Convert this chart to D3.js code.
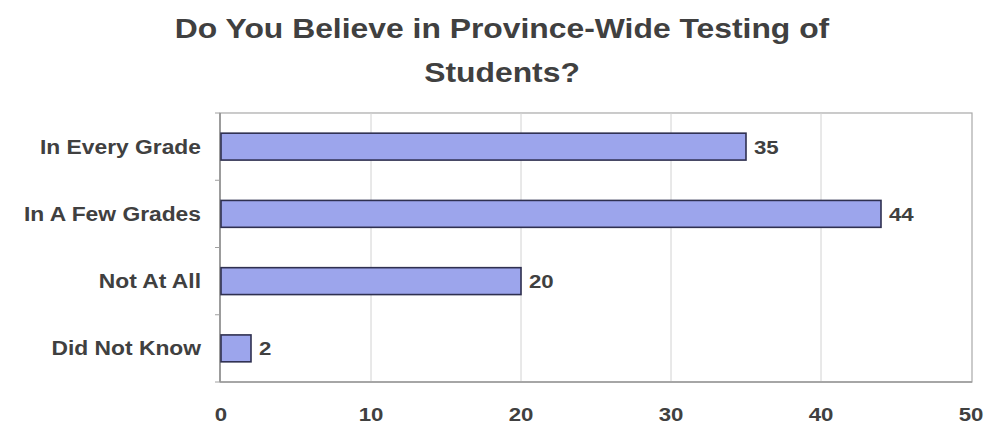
<!DOCTYPE html>
<html>
<meta charset="utf-8">
<head>
<style>
  body { margin: 0; background: #fff; }
  svg text { font-family: "Liberation Sans", Arial, sans-serif; font-weight: bold; fill: #404040; }
</style>
</head>
<body>
<script src="https://d3js.org/d3.v7.min.js"></script>
<script>
// data
var categories = ["In Every Grade", "In A Few Grades", "Not At All", "Did Not Know"];
var values = [35, 44, 20, 2];
var xTicks = [0, 10, 20, 30, 40, 50];
var titleLines = ["Do You Believe in Province-Wide Testing of", "Students?"];

var width = 987, height = 426;
var plot = { left: 220, right: 972, top: 113, bottom: 382 };
// the original text looks a bit wider than Arial, stretch it a little
var sx = 1.17;

var svg = d3.select("body").append("svg")
  .attr("width", width)
  .attr("height", height);

var x = d3.scaleLinear().domain([0, 50]).range([221, 971]);
var y = d3.scaleBand().domain(categories)
  .range([plot.top, plot.bottom])
  .paddingInner(0.6)
  .paddingOuter(0.3);

// title
svg.selectAll(".title")
  .data(titleLines)
  .join("text")
  .attr("class", "title")
  .attr("text-anchor", "middle")
  .style("font-size", "27px")
  .attr("transform", function (d, i) { return "translate(502," + (38 + i * 44) + ") scale(1.18,1)"; })
  .text(function (d) { return d; });

// plot frame
svg.append("rect")
  .attr("x", plot.left).attr("y", plot.top)
  .attr("width", plot.right - plot.left)
  .attr("height", plot.bottom - plot.top)
  .attr("fill", "none")
  .attr("stroke", "#a8a8a8")
  .attr("stroke-width", 1.2);

// vertical grid lines
svg.selectAll(".grid")
  .data(xTicks.filter(function (t) { return t > 0 && t < 50; }))
  .join("line")
  .attr("x1", function (d) { return x(d); })
  .attr("x2", function (d) { return x(d); })
  .attr("y1", plot.top).attr("y2", plot.bottom)
  .attr("stroke", "#d2d2d2")
  .attr("stroke-width", 1);

// left axis + bottom axis lines
svg.append("line")
  .attr("x1", plot.left).attr("x2", plot.left)
  .attr("y1", plot.top).attr("y2", plot.bottom)
  .attr("stroke", "#8c8c8c").attr("stroke-width", 1.5);
svg.append("line")
  .attr("x1", plot.left).attr("x2", plot.right)
  .attr("y1", plot.bottom).attr("y2", plot.bottom)
  .attr("stroke", "#9a9a9a").attr("stroke-width", 1.5);

// little ticks between categories on the left axis
var sep = d3.range(categories.length + 1).map(function (i) { return plot.top + i * (plot.bottom - plot.top) / categories.length; });
svg.selectAll(".ytick")
  .data(sep)
  .join("line")
  .attr("x1", plot.left - 5).attr("x2", plot.left)
  .attr("y1", function (d) { return d; }).attr("y2", function (d) { return d; })
  .attr("stroke", "#a0a0a0");

// bars
svg.selectAll(".bar")
  .data(values)
  .join("rect")
  .attr("x", x(0))
  .attr("y", function (d, i) { return y(categories[i]); })
  .attr("width", function (d) { return x(d) - x(0); })
  .attr("height", y.bandwidth())
  .attr("fill", "#9ca5ec")
  .attr("stroke", "#2f3050")
  .attr("stroke-width", 1.6);

// value labels
svg.selectAll(".val")
  .data(values)
  .join("text")
  .style("font-size", "19px")
  .attr("dominant-baseline", "central")
  .attr("transform", function (d, i) {
    return "translate(" + (x(d) + 8) + "," + (y(categories[i]) + y.bandwidth() / 2) + ") scale(" + sx + ",1)";
  })
  .text(function (d) { return d; });

// category labels
svg.selectAll(".cat")
  .data(categories)
  .join("text")
  .style("font-size", "19.5px")
  .attr("text-anchor", "end")
  .attr("dominant-baseline", "central")
  .attr("transform", function (d) {
    return "translate(" + (plot.left - 19) + "," + (y(d) + y.bandwidth() / 2) + ") scale(" + sx + ",1)";
  })
  .text(function (d) { return d; });

// x tick labels
svg.selectAll(".xt")
  .data(xTicks)
  .join("text")
  .style("font-size", "19px")
  .attr("text-anchor", "middle")
  .attr("transform", function (d) { return "translate(" + x(d) + ",421) scale(" + sx + ",1)"; })
  .text(function (d) { return d; });
</script>
</body>
</html>
